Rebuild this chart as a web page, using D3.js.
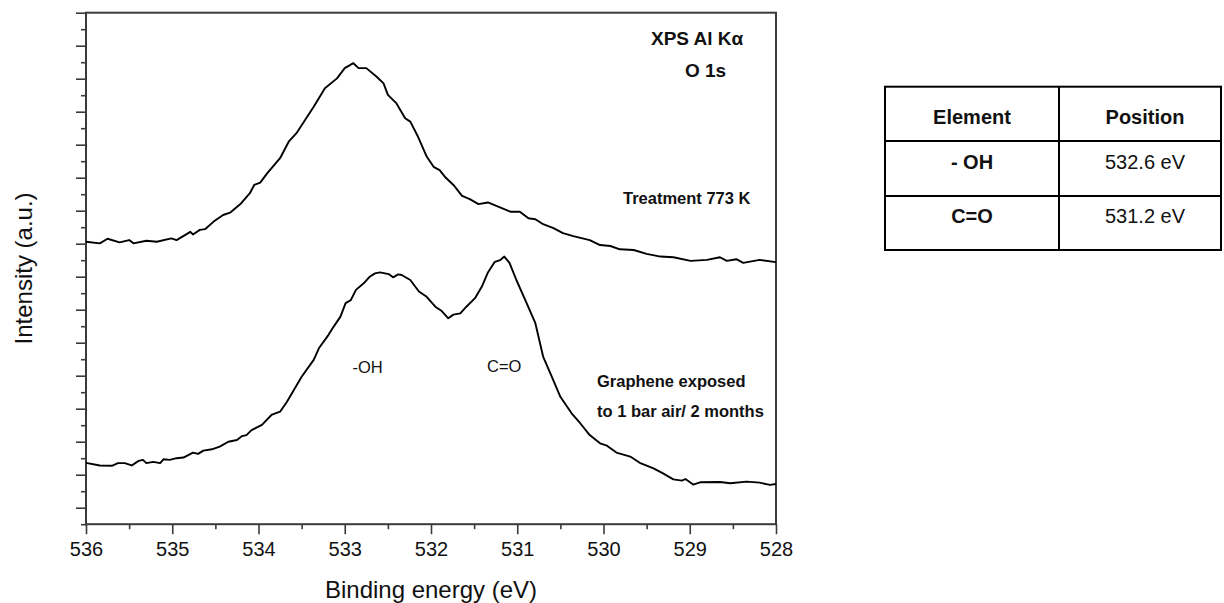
<!DOCTYPE html>
<html>
<head>
<meta charset="utf-8">
<script src="https://cdn.jsdelivr.net/npm/d3@7"></script>
<style>
  html, body { margin: 0; padding: 0; background: #fff; }
  svg { display: block; font-family: "Liberation Sans", Arial, sans-serif; }
</style>
</head>
<body>
<svg id="chart" width="1224" height="603"></svg>
<script>
// O 1s XPS spectra: binding energy (eV) and intensity (arbitrary units, offset stacked)
const treatedEnergy = [536.00, 535.84, 535.75, 535.61, 535.50, 535.45, 535.30, 535.18, 535.01, 534.95,
  534.79, 534.76, 534.68, 534.62, 534.52, 534.41, 534.33, 534.21, 534.10, 534.05, 533.98, 533.90,
  533.75, 533.65, 533.56, 533.36, 533.23, 533.09, 533.00, 532.90, 532.84, 532.75, 532.63, 532.55,
  532.50, 532.40, 532.30, 532.24, 532.15, 532.05, 531.97, 531.90, 531.84, 531.74, 531.64, 531.55,
  531.45, 531.34, 531.20, 531.08, 530.97, 530.87, 530.79, 530.70, 530.58, 530.47, 530.35, 530.16,
  530.04, 529.92, 529.81, 529.65, 529.50, 529.34, 529.19, 528.99, 528.80, 528.65, 528.57, 528.46,
  528.38, 528.19, 528.00];
const treatedIntensity = [8.06, 8.01, 8.15, 8.04, 8.11, 8.01, 8.09, 8.06, 8.16, 8.11,
  8.36, 8.28, 8.42, 8.44, 8.67, 8.87, 8.94, 9.20, 9.53, 9.78, 9.85, 10.13,
  10.59, 11.09, 11.35, 12.15, 12.71, 13.01, 13.32, 13.47, 13.32, 13.32, 13.06, 12.86,
  12.51, 12.25, 11.80, 11.70, 11.24, 10.64, 10.33, 10.23, 10.03, 9.78, 9.45, 9.35,
  9.20, 9.25, 9.10, 8.97, 8.97, 8.77, 8.74, 8.59, 8.47, 8.32, 8.23, 8.11,
  7.96, 7.93, 7.83, 7.81, 7.69, 7.61, 7.59, 7.48, 7.51, 7.59, 7.48, 7.53,
  7.42, 7.51, 7.44];

const exposedEnergy = [536.00, 535.84, 535.70, 535.63, 535.55, 535.47, 535.39, 535.34, 535.30, 535.22,
  535.14, 535.10, 535.03, 534.95, 534.87, 534.76, 534.70, 534.64, 534.54, 534.45, 534.35, 534.25,
  534.19, 534.14, 534.08, 533.96, 533.85, 533.75, 533.67, 533.60, 533.50, 533.36, 533.30, 533.19,
  533.13, 533.05, 532.99, 532.93, 532.87, 532.78, 532.71, 532.65, 532.59, 532.49, 532.44, 532.38,
  532.34, 532.24, 532.14, 532.05, 531.95, 531.88, 531.80, 531.74, 531.66, 531.59, 531.49, 531.41,
  531.34, 531.26, 531.20, 531.15, 531.09, 531.01, 530.89, 530.79, 530.70, 530.60, 530.50, 530.37,
  530.27, 530.16, 530.04, 529.96, 529.85, 529.69, 529.58, 529.42, 529.31, 529.19, 529.09, 529.05,
  528.96, 528.88, 528.65, 528.53, 528.34, 528.19, 528.07, 528.00];
const exposedIntensity = [1.36, 1.28, 1.27, 1.35, 1.35, 1.28, 1.42, 1.45, 1.35, 1.39,
  1.35, 1.47, 1.45, 1.50, 1.52, 1.67, 1.63, 1.73, 1.77, 1.85, 2.00, 2.05,
  2.17, 2.20, 2.35, 2.51, 2.81, 2.91, 3.21, 3.52, 3.97, 4.48, 4.83, 5.23,
  5.48, 5.79, 6.20, 6.29, 6.60, 6.80, 7.00, 7.10, 7.13, 7.08, 6.98, 7.07,
  7.05, 6.90, 6.55, 6.39, 6.09, 5.97, 5.74, 5.85, 5.89, 6.09, 6.35, 6.70,
  7.13, 7.45, 7.50, 7.61, 7.42, 6.90, 6.19, 5.59, 4.58, 3.97, 3.36, 2.86,
  2.56, 2.20, 1.95, 1.88, 1.67, 1.55, 1.36, 1.19, 1.04, 0.86, 0.82, 0.87,
  0.70, 0.77, 0.78, 0.74, 0.79, 0.76, 0.69, 0.72];

// Axis ticks
const xMajorTicks = [536, 535, 534, 533, 532, 531, 530, 529, 528];
const xMinorTicks = [535.5, 534.5, 533.5, 532.5, 531.5, 530.5, 529.5, 528.5];
const yMajorTicks = d3.range(0, 16, 1);
const yMinorTicks = d3.range(-0.5, 15, 1);

// Peak assignment table
const tableHeaders = ["Element", "Position"];
const tableElements = ["- OH", "C=O"];
const tablePositions = ["532.6 eV", "531.2 eV"];

const svg = d3.select("#chart");
const margin = { left: 86, right: 776, top: 12.7, bottom: 524.2 };

const x = d3.scaleLinear().domain([536, 528]).range([margin.left, margin.right]);
const y = d3.scaleLinear().domain([-0.5, 15]).range([margin.bottom, margin.top]);

const frameColor = "#3a3a3a";

// x axis: major (long) and minor (short) ticks pointing down
const gx = svg.append("g").attr("transform", `translate(0,${margin.bottom})`);
gx.call(d3.axisBottom(x).tickValues(xMinorTicks).tickSize(5).tickFormat(""))
  .call(g => g.select(".domain").remove());
gx.append("g").call(d3.axisBottom(x).tickValues(xMajorTicks).tickSize(10).tickPadding(8)
    .tickFormat(d3.format("d")))
  .call(g => g.select(".domain").remove())
  .call(g => g.selectAll("text").attr("font-size", 20).attr("fill", "#111")
      .attr("font-family", "Liberation Sans, Arial, sans-serif"));
gx.selectAll("line").attr("stroke", frameColor).attr("stroke-width", 1.6);

// y axis: major and minor ticks pointing left, no labels
const gy = svg.append("g").attr("transform", `translate(${margin.left},0)`);
gy.call(d3.axisLeft(y).tickValues(yMinorTicks).tickSize(5).tickFormat(""))
  .call(g => g.select(".domain").remove());
gy.append("g").call(d3.axisLeft(y).tickValues(yMajorTicks).tickSize(10).tickFormat(""))
  .call(g => g.select(".domain").remove());
gy.selectAll("line").attr("stroke", frameColor).attr("stroke-width", 1.6);

// plot frame
svg.append("rect")
  .attr("x", margin.left).attr("y", margin.top)
  .attr("width", margin.right - margin.left).attr("height", margin.bottom - margin.top)
  .attr("fill", "none").attr("stroke", frameColor).attr("stroke-width", 2);

// spectra
const line = d3.line().x(d => x(d[0])).y(d => y(d[1]));
const series = [
  d3.zip(treatedEnergy, treatedIntensity),
  d3.zip(exposedEnergy, exposedIntensity)
];
svg.append("g").selectAll("path").data(series).join("path")
  .attr("d", line)
  .attr("fill", "none").attr("stroke", "#000").attr("stroke-width", 1.9)
  .attr("stroke-linejoin", "round");

// axis titles
svg.append("text")
  .attr("x", (margin.left + margin.right) / 2).attr("y", 598)
  .attr("text-anchor", "middle").attr("font-size", 24).attr("fill", "#111")
  .text("Binding energy (eV)");
svg.append("text")
  .attr("transform", `translate(32,${(margin.top + margin.bottom) / 2}) rotate(-90)`)
  .attr("text-anchor", "middle").attr("font-size", 24).attr("fill", "#111")
  .text("Intensity (a.u.)");

// annotations
const notes = [
  { t: "XPS Al Kα", x: 651, y: 45, size: 19, bold: true },
  { t: "O 1s", x: 685, y: 77, size: 19, bold: true },
  { t: "Treatment 773 K", x: 623, y: 204, size: 16.5, bold: true },
  { t: "Graphene exposed", x: 597, y: 387, size: 16.5, bold: true },
  { t: "to 1 bar air/ 2 months", x: 597, y: 417, size: 16.5, bold: true },
  { t: "-OH", x: 352.5, y: 372.7, size: 16.5, bold: false },
  { t: "C=O", x: 487, y: 372, size: 16.5, bold: false }
];
svg.append("g").selectAll("text").data(notes).join("text")
  .attr("x", d => d.x).attr("y", d => d.y)
  .attr("font-size", d => d.size)
  .attr("font-weight", d => d.bold ? "bold" : "normal")
  .attr("fill", "#111")
  .text(d => d.t);

// peak table
const table = svg.append("g");
const tLeft = 885, tMid = 1059, tRight = 1221;
const rowLines = [86.7, 141, 196, 250];
const colCenters = [972, 1145];
table.append("rect")
  .attr("x", tLeft).attr("y", rowLines[0])
  .attr("width", tRight - tLeft).attr("height", rowLines[3] - rowLines[0])
  .attr("fill", "none").attr("stroke", "#000").attr("stroke-width", 2);
table.selectAll("line.row").data(rowLines.slice(1, 3)).join("line")
  .attr("x1", tLeft).attr("x2", tRight).attr("y1", d => d).attr("y2", d => d)
  .attr("stroke", "#000").attr("stroke-width", 2);
table.append("line")
  .attr("x1", tMid).attr("x2", tMid).attr("y1", rowLines[0]).attr("y2", rowLines[3])
  .attr("stroke", "#000").attr("stroke-width", 2);

const cells = [
  ...tableHeaders.map((t, i) => ({ t, col: i, row: 0, bold: true })),
  ...tableElements.map((t, i) => ({ t, col: 0, row: i + 1, bold: true })),
  ...tablePositions.map((t, i) => ({ t, col: 1, row: i + 1, bold: false }))
];
const baselines = [124, 169, 223.3];
table.selectAll("text").data(cells).join("text")
  .attr("x", d => colCenters[d.col]).attr("y", d => baselines[d.row])
  .attr("text-anchor", "middle").attr("font-size", 20)
  .attr("font-weight", d => d.bold ? "bold" : "normal")
  .attr("fill", "#111")
  .text(d => d.t);
</script>
</body>
</html>
